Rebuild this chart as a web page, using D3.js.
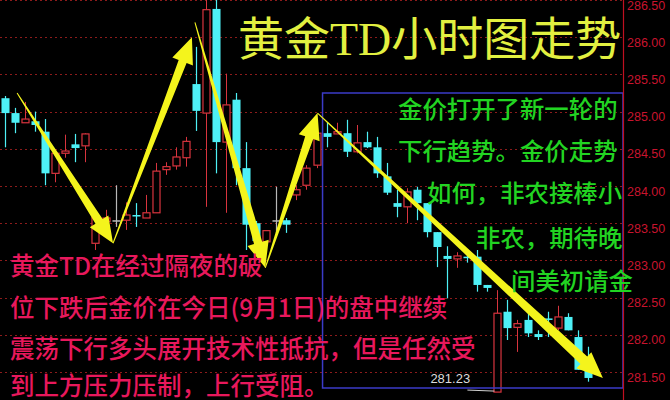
<!DOCTYPE html>
<html><head><meta charset="utf-8">
<script src="https://cdn.jsdelivr.net/npm/d3@7"></script>
<style>html,body{margin:0;padding:0;background:#000;overflow:hidden}</style>
</head><body>
<svg id="c" width="670" height="400"></svg>
<script>
// ---- data ----
const slotCount = 62; // hourly bar slots across the plot
const opens  = [285.18,284.98,284.85,284.87,284.73,284.17,284.44,284.56,284.54,283.23,
                283.52,283.54,283.54,283.61,283.57,283.64,284.22,284.27,284.38,285.37,
                284.98,286.38,284.59,285.16,284.24,283.50,283.25,283.54,283.54,283.88,
                284.01,284.28,284.71,284.70,284.71,284.46,284.59,284.52,284.13,283.77,
                283.72,283.95,283.77,283.38,283.06,283.02,283.05,283.05,282.67,281.23,
                282.31,282.10,282.20,282.01,282.22,282.09,282.24,281.97,281.63];
const highs  = [285.21,285.05,285.13,285.00,284.90,284.48,284.69,284.70,284.71,283.60,
                283.68,284.01,283.78,283.77,283.88,284.31,284.32,284.52,284.66,285.87,
                286.70,286.60,285.51,285.25,284.59,283.53,283.40,283.99,283.57,284.01,
                284.28,284.75,284.86,284.85,284.89,284.82,284.73,284.66,284.31,283.95,
                283.97,283.99,283.77,283.38,283.19,283.11,283.10,283.14,282.67,282.60,
                282.47,282.20,282.29,282.06,282.31,282.39,282.29,282.06,281.84];
const lows   = [284.52,284.71,284.85,284.73,284.01,284.05,284.38,284.32,284.32,283.14,
                283.44,283.45,283.41,283.45,283.57,283.64,284.15,284.22,284.26,284.74,
                283.72,284.17,283.64,284.01,283.14,283.14,283.14,283.37,283.37,283.81,
                283.95,284.24,284.52,284.70,284.39,284.44,284.51,284.11,283.88,283.58,
                283.50,283.54,283.31,282.91,282.49,282.90,282.97,282.58,282.58,281.23,
                281.93,281.77,281.97,281.93,281.97,282.06,282.06,281.53,281.37];
const closes = [284.98,284.85,284.90,284.82,284.17,284.44,284.47,284.51,284.70,283.58,
                283.57,283.54,283.61,283.59,283.64,284.20,284.26,284.39,284.60,285.01,
                286.37,284.59,285.09,284.24,283.48,283.26,283.40,283.54,283.48,283.95,
                284.24,284.71,284.66,284.73,284.46,284.58,284.52,284.17,283.91,283.72,
                283.92,283.77,283.38,283.18,283.02,283.06,283.03,282.67,282.63,282.29,
                282.09,282.15,282.02,281.97,282.20,282.24,282.06,281.53,281.42];
const priceTicks = [281.5,282.0,282.5,283.0,283.5,284.0,284.5,285.0,285.5,286.0,286.5];
const lowValue = 281.23, lowIndex = 49;
// annotation arrows: [tailIndex, tailPrice, headIndex, headPrice]
const arrows = [
  [1.2, 285.25, 10.75, 283.23],
  [10.75, 283.23, 18.6, 286.00],
  [18.9, 286.20, 25.9, 282.90],
  [25.9, 282.90, 31.1, 284.98],
  [31.1, 284.98, 59.5, 281.42]
];
// highlighted box: [fromIndex, topPrice, bottomPrice]
const boxSpan = [31.6, 285.25, 281.285];
const titleText = "黄金TD小时图走势";
const greenLines = ["金价打开了新一轮的","下行趋势。金价走势","如何，非农接棒小","非农，期待晚","间美初请金"];
const pinkLines = ["黄金TD在经过隔夜的破","位下跌后金价在今日(9月1日)的盘中继续","震荡下行多头展开技术性抵抗，但是任然受","到上方压力压制，上行受阻。"];

// ---- layout ----
const W = 670, H = 400, plotR = 623;
const svg = d3.select("#c");
svg.append("rect").attr("width",W).attr("height",H).attr("fill","#000");

const x = d3.scaleBand().domain(d3.range(slotCount)).range([0, plotR]).paddingInner(0.2).paddingOuter(0.1);
const bw = x.bandwidth();
const cx = i => x(i) + bw/2;
const xi = d3.scaleLinear().domain([0, slotCount-1]).range([cx(0), cx(slotCount-1)]);
const y = d3.scaleLinear().domain([281.5, 286.5]).range([372, 0]);

svg.append("clipPath").attr("id","pc").append("rect").attr("x",0).attr("y",0).attr("width",plotR).attr("height",H);
const plot = svg.append("g").attr("clip-path","url(#pc)");

// grid
plot.selectAll("line.grid").data(priceTicks).join("line")
  .attr("x1",0).attr("x2",plotR).attr("y1",d=>Math.round(y(d))+0.5).attr("y2",d=>Math.round(y(d))+0.5)
  .attr("stroke","#8c1b1b").attr("stroke-width",1).attr("stroke-dasharray","2,3");

// candles
const bars = opens.map((o,i)=>({i,o,h:highs[i],l:lows[i],c:closes[i]}));
const RED="#d8343e", CYAN="#4ef0f6", GRAY="#b8b8b8";
const col = d => d.c>d.o ? RED : (d.c<d.o ? CYAN : GRAY);
const g = plot.selectAll("g.bar").data(bars).join("g");
g.each(function(d){
  const s = d3.select(this);
  const X = Math.round(cx(d.i))+0.5;
  const top = y(Math.max(d.o,d.c)), bot = y(Math.min(d.o,d.c));
  const c = col(d);
  if (d.c>d.o){
    s.append("line").attr("x1",X).attr("x2",X).attr("y1",y(d.h)).attr("y2",top).attr("stroke",c);
    s.append("line").attr("x1",X).attr("x2",X).attr("y1",bot).attr("y2",y(d.l)).attr("stroke",c);
    s.append("rect").attr("x",X-bw/2+0.5).attr("y",top).attr("width",bw-1).attr("height",Math.max(1.5,bot-top))
      .attr("fill","#000").attr("stroke",c).attr("stroke-width",1.2);
  } else {
    s.append("line").attr("x1",X).attr("x2",X).attr("y1",y(d.h)).attr("y2",y(d.l)).attr("stroke",c).attr("stroke-width",1.2);
    s.append("rect").attr("x",X-bw/2).attr("y",top).attr("width",bw).attr("height",Math.max(1.5,bot-top)).attr("fill",c);
  }
});

// low marker
plot.append("line").attr("x1",cx(lowIndex)-30).attr("x2",cx(lowIndex)-3)
  .attr("y1",y(lowValue)-2).attr("y2",y(lowValue)-1).attr("stroke","#d0d0d0").attr("stroke-width",1);
svg.append("text").attr("x",cx(lowIndex)-67).attr("y",y(lowValue)-9).text(lowValue.toFixed(2))
  .attr("fill","#dcdcdc").attr("font-family","Liberation Sans, Arial, sans-serif").attr("font-size",13);

// box
svg.append("rect").attr("x",xi(boxSpan[0])).attr("y",y(boxSpan[1]))
  .attr("width",plotR - xi(boxSpan[0])).attr("height",y(boxSpan[2])-y(boxSpan[1]))
  .attr("fill","none").attr("stroke","#3b3bc8").attr("stroke-width",1.5);

// axis
svg.append("line").attr("x1",plotR+0.5).attr("x2",plotR+0.5).attr("y1",0).attr("y2",H).attr("stroke","#c01020").attr("stroke-width",1.2);
const ax = svg.append("g").attr("transform",`translate(${plotR},0)`)
  .call(d3.axisRight(y).tickValues(priceTicks).tickSize(0).tickPadding(4).tickFormat(d3.format(".2f")));
ax.select(".domain").remove();
ax.selectAll("text").attr("fill","#c8142e").attr("font-family","Liberation Sans, Arial, sans-serif")
  .attr("font-size",12.5).attr("dy","0.72em");

// arrows
function arrowPath(x0,y0,x1,y1,tw,sw,hw,hl){
  const dx=x1-x0, dy=y1-y0, L=Math.hypot(dx,dy), ux=dx/L, uy=dy/L, nx=-uy, ny=ux;
  const nkx=x1-ux*hl, nky=y1-uy*hl;
  const p=[[x0+nx*tw/2,y0+ny*tw/2],[nkx+nx*sw/2,nky+ny*sw/2],[nkx+nx*hw/2,nky+ny*hw/2],[x1,y1],
           [nkx-nx*hw/2,nky-ny*hw/2],[nkx-nx*sw/2,nky-ny*sw/2],[x0-nx*tw/2,y0-ny*tw/2]];
  return "M"+p.map(q=>q.join(",")).join("L")+"Z";
}
svg.selectAll("path.arrow").data(arrows).join("path")
  .attr("d",(a,k)=>arrowPath(xi(a[0]),y(a[1]),xi(a[2]),y(a[3]),1,k===4?10:8.5,22,26))
  .attr("fill","#f4f41c");

// texts
const CJK = "'Noto Sans CJK SC', 'Noto Sans', sans-serif";
svg.append("text").attr("x",238).attr("y",39).attr("dominant-baseline","central")
  .attr("font-family","'Liberation Serif', 'Noto Sans CJK SC', serif").attr("font-size",46)
  .attr("fill","#e2f040").text(titleText);
const gx=[398,398,427,476,511], gy=[107,149,191,236,279];
svg.selectAll("text.gn").data(greenLines).join("text")
  .attr("x",(d,i)=>gx[i]).attr("y",(d,i)=>gy[i]).attr("dominant-baseline","central")
  .attr("font-family",CJK).attr("font-weight",500).attr("font-size",24.4).attr("fill","#22d422").text(d=>d);
const py=[264,306,347,384];
svg.selectAll("text.pk").data(pinkLines).join("text")
  .attr("x",10).attr("y",(d,i)=>py[i]).attr("dominant-baseline","central")
  .attr("font-family",CJK).attr("font-weight",500).attr("font-size",24.5).attr("fill","#e8185c").text(d=>d);
</script>
</body></html>
